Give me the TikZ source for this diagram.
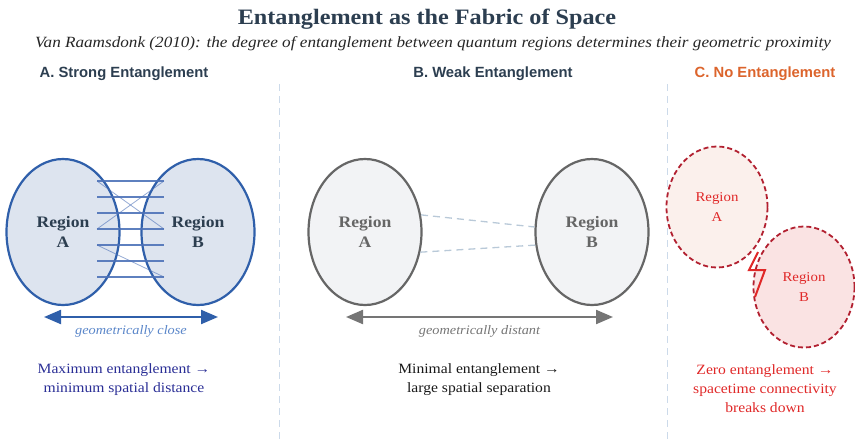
\documentclass[tikz,border=0pt]{standalone}
\usepackage{fontspec}
\setmainfont{Liberation Serif}[FakeStretch=1.1]
\setsansfont{Liberation Sans}
\usetikzlibrary{arrows.meta, shapes.geometric, positioning}

\definecolor{navy}{HTML}{2C3E50}
\definecolor{orangeC}{HTML}{DC642C}
\definecolor{blueE}{HTML}{2F5FAA}
\definecolor{blueF}{HTML}{DDE4EF}
\definecolor{blueL}{HTML}{4D72B8}
\definecolor{blueT}{HTML}{5A86C9}
\definecolor{indigoT}{HTML}{2B2F96}
\definecolor{grayE}{HTML}{666666}
\definecolor{grayF}{HTML}{F2F3F5}
\definecolor{grayD}{HTML}{B9C9D8}
\definecolor{redE}{HTML}{B22030}
\definecolor{redFA}{HTML}{FBF0EC}
\definecolor{redFB}{HTML}{FAE3E3}
\definecolor{redT}{HTML}{E02828}
\definecolor{divider}{HTML}{CCDAEA}

\begin{document}
\begin{tikzpicture}[
   x=1pt, y=-1pt,
   titlestyle/.style={font=\bfseries\fontsize{22}{24}\selectfont, text=navy},
   subtitle/.style={font=\itshape\fontsize{15.6}{18}\selectfont, text=black!85},
   heading/.style={font=\sffamily\bfseries\fontsize{14.8}{17}\selectfont, text=navy},
   region/.style={ellipse, line width=2.2pt, minimum width=113pt, minimum height=146pt,
                  align=center, font=\bfseries\fontsize{16}{20}\selectfont},
   regionC/.style={ellipse, line width=1.8pt, dash pattern=on 5pt off 3pt,
                   minimum width=101pt, minimum height=121pt, draw=redE,
                   align=center, text=redT, font=\fontsize{13.5}{20}\selectfont},
   entline/.style={blueL, line width=1.8pt, opacity=0.9},
   crossline/.style={blueL, line width=0.8pt, opacity=0.6},
   distarrow/.style={{Triangle[length=17pt,width=14pt]}-{Triangle[length=17pt,width=14pt]}, line width=2.2pt},
   caption/.style={font=\itshape\fontsize{13}{15}\selectfont},
   summary/.style={align=center, font=\fontsize{14.2}{19}\selectfont},
   sep/.style={divider, line width=1pt, dash pattern=on 7pt off 5pt}
]
\useasboundingbox (0,0) rectangle (855,440);

% --- title block
\node[titlestyle] (title) at (427,19) {Entanglement as the Fabric of Space};
\node[subtitle] (sub) at (433,44) {Van Raamsdonk (2010): the degree of entanglement between quantum regions determines their geometric proximity};

% --- panel dividers
\coordinate (d1top) at (279,84);
\coordinate (d1bot) at (279,440);
\coordinate (d2top) at (667,84);
\coordinate (d2bot) at (667,440);
\draw[sep] (d1top) -- (d1bot);
\draw[sep] (d2top) -- (d2bot);

% --- panel headings
\node[heading] (headA) at (124,74) {A. Strong Entanglement};
\node[heading] (headB) at (493,74) {B. Weak Entanglement};
\node[heading, text=orangeC] (headC) at (765,74) {C. No Entanglement};

% === A: strong entanglement
\node[region, draw=blueE, fill=blueF, text=navy] (sA) at (63,232) {Region\\A};
\node[region, draw=blueE, fill=blueF, text=navy] (sB) at (198,232) {Region\\B};

% entanglement links between the two regions
\foreach \y [count=\i] in {181,197,...,277} {
   \coordinate (eL\i) at (97,\y);
   \coordinate (eR\i) at (164,\y);
   \draw[entline] (eL\i) -- (eR\i);
}
\draw[crossline] (eL4) -- (eR1);
\draw[crossline] (eL1) -- (eR4);
\draw[crossline] (eL5) -- (eR7);

\coordinate (arrAl) at (44,317);
\coordinate (arrAr) at (218,317);
\draw[distarrow, blueE] (arrAl) -- (arrAr)
   node[midway, below=4pt, caption, text=blueT] (closeLbl) {geometrically close};

\node[summary, text=indigoT] (sumA) at (124,380) {Maximum entanglement →\\minimum spatial distance};

% === B: weak entanglement
\node[region, draw=grayE, fill=grayF, text=grayE] (wA) at (365,232) {Region\\A};
\node[region, draw=grayE, fill=grayF, text=grayE] (wB) at (592,232) {Region\\B};

\draw[grayD, line width=1.3pt, dash pattern=on 7pt off 5pt] (wA.17) -- (wB.175);
\draw[grayD, line width=1.3pt, dash pattern=on 7pt off 5pt] (wA.-20) -- (wB.-167);

\coordinate (arrBl) at (346,317);
\coordinate (arrBr) at (613,317);
\draw[distarrow, grayE!90] (arrBl) -- (arrBr)
   node[midway, below=4pt, caption, text=grayE!90] (distLbl) {geometrically distant};

\node[summary, text=black!90] (sumB) at (479,380) {Minimal entanglement →\\large spatial separation};

% === C: no entanglement
\node[regionC, fill=redFA] (nA) at (717,207) {Region\\A};
\node[regionC, fill=redFB] (nB) at (804,287) {Region\\B};

% broken link (lightning)
\draw[redT, line width=2pt, line join=miter] (758,252) -- (749,270) -- (765,270) -- (755,297);

\node[summary, text=redT] (sumC) at (765,389) {Zero entanglement →\\spacetime connectivity\\breaks down};

\end{tikzpicture}
\end{document}
